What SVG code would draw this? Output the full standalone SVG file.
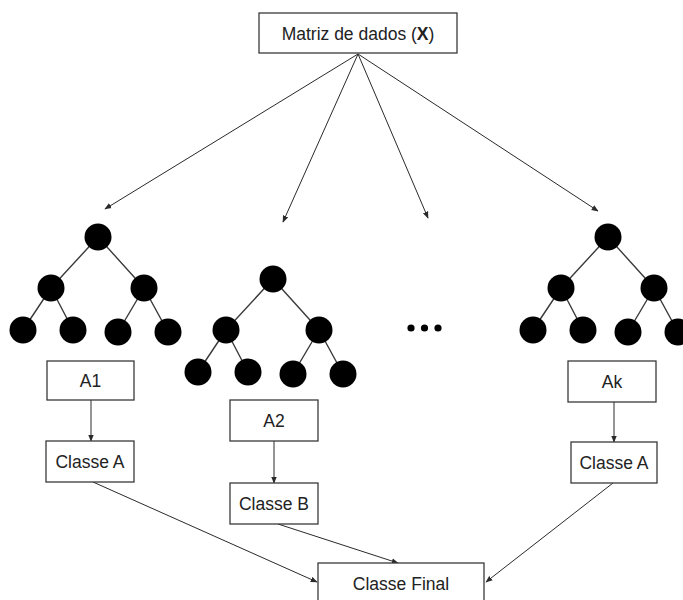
<svg xmlns="http://www.w3.org/2000/svg" width="683" height="600" viewBox="0 0 683 600">
  <style>
    .box { fill: #ffffff; stroke: #3a3a3a; stroke-width: 1.3; }
    .lbl { font-family: "Liberation Sans", Arial, sans-serif; font-size: 17.5px; fill: #222222; text-anchor: middle; dominant-baseline: central; }
    .edge { stroke: #3a3a3a; stroke-width: 1.4; fill: none; }
    .conn { stroke: #2a2a2a; stroke-width: 1; fill: none; marker-end: url(#head); }
    .dot { fill: #000000; }
  </style>
  <defs>
    <marker id="head" viewBox="0 0 10 10" refX="9" refY="5" markerWidth="7" markerHeight="7" markerUnits="userSpaceOnUse" orient="auto">
      <path d="M0,1 L10,5 L0,9 z" fill="#2a2a2a"/>
    </marker>
    <!-- a three-level binary tree drawn around its root at (0,0) -->
    <g id="tree">
      <path class="edge" d="M0,0 L-47,51 M0,0 L46,51 M-47,51 L-75,93 M-47,51 L-25,93 M46,51 L20,95 M46,51 L70,95"/>
      <circle class="dot" cx="0" cy="0" r="13.5"/>
      <circle class="dot" cx="-47" cy="51" r="13.5"/>
      <circle class="dot" cx="46" cy="51" r="13.5"/>
      <circle class="dot" cx="-75" cy="93" r="13.5"/>
      <circle class="dot" cx="-25" cy="93" r="13.5"/>
      <circle class="dot" cx="20" cy="95" r="13.5"/>
      <circle class="dot" cx="70" cy="95" r="13.5"/>
    </g>
  </defs>

  <g id="connectors">
    <line class="conn" x1="358" y1="54" x2="105" y2="209"/>
    <line class="conn" x1="358" y1="54" x2="283" y2="222"/>
    <line class="conn" x1="358" y1="54" x2="428" y2="218"/>
    <line class="conn" x1="358" y1="54" x2="598" y2="211"/>
    <line class="conn" x1="91" y1="400" x2="91" y2="441"/>
    <line class="conn" x1="274" y1="441" x2="274" y2="483"/>
    <line class="conn" x1="614" y1="402" x2="614" y2="442"/>
    <line class="conn" x1="93" y1="482" x2="317" y2="582"/>
    <line class="conn" x1="278" y1="524" x2="398" y2="563"/>
    <line class="conn" x1="613" y1="483" x2="486" y2="582"/>
  </g>

  <g id="matriz">
    <rect class="box" x="259" y="13" width="198" height="40" stroke-width="1.6"/>
    <text class="lbl" x="358" y="34">Matriz de dados (<tspan font-weight="bold">X</tspan>)</text>
  </g>

  <g id="arvore1"><use href="#tree" x="98" y="237"/></g>
  <g id="arvore2"><use href="#tree" x="273" y="279"/></g>
  <g id="arvorek"><use href="#tree" x="608" y="237"/></g>

  <g id="reticencias">
    <circle class="dot" cx="411" cy="328" r="3.6"/>
    <circle class="dot" cx="424.5" cy="328" r="3.6"/>
    <circle class="dot" cx="438" cy="328" r="3.6"/>
  </g>

  <g id="a1">
    <rect class="box" x="47" y="361" width="87" height="39"/>
    <text class="lbl" x="90.5" y="381">A1</text>
  </g>
  <g id="classe-a1">
    <rect class="box" x="46" y="441" width="88" height="41"/>
    <text class="lbl" x="90" y="462">Classe A</text>
  </g>
  <g id="a2">
    <rect class="box" x="230" y="400" width="88" height="41"/>
    <text class="lbl" x="274" y="421">A2</text>
  </g>
  <g id="classe-b">
    <rect class="box" x="230" y="483" width="88" height="41"/>
    <text class="lbl" x="274" y="504">Classe B</text>
  </g>
  <g id="ak">
    <rect class="box" x="568" y="361" width="88" height="41"/>
    <text class="lbl" x="612" y="382">Ak</text>
  </g>
  <g id="classe-ak">
    <rect class="box" x="571" y="442" width="86" height="41"/>
    <text class="lbl" x="614" y="463">Classe A</text>
  </g>
  <g id="classe-final">
    <rect class="box" x="318" y="563" width="166" height="45"/>
    <text class="lbl" x="401" y="584">Classe Final</text>
  </g>
</svg>
